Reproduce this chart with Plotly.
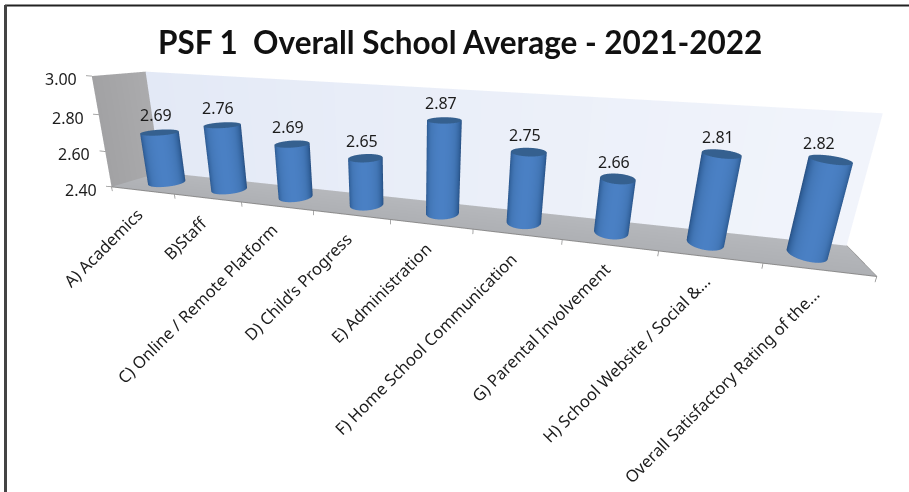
import numpy as np
import plotly.graph_objects as go

categories = ["A) Academics", "B)Staff", "C) Online / Remote Platform", "D) Child’s Progress",
              "E) Administration", "F) Home School Communication", "G) Parental Involvement",
              "H) School Website / Social &...", "Overall Satisfactory Rating of the..."]
values = [2.69, 2.76, 2.69, 2.65, 2.87, 2.75, 2.66, 2.81, 2.82]
value_ticks = [2.40, 2.60, 2.80, 3.00]
bar_half_widths = [0.22, 0.21, 0.20, 0.20, 0.195, 0.20, 0.19, 0.19, 0.185]
title = "PSF 1  Overall School Average - 2021-2022"

WIDTH, HEIGHT = 909, 492
Z_FLOOR, Z_TOP = 2.40, 3.00
# box proportions and camera for the tilted 3-D view
BOX = dict(x=2.3178, y=0.2332, z=0.3685)
EYE = dict(x=0.5153, y=-1.7069, z=0.3680)
CENTER = dict(x=0.0890, y=-0.1697, z=-0.2230)
UP = dict(x=-0.0142, y=-0.0483, z=1)
PAD_X, PAD_Y, PAD_Z = 0.2, 0.05, 0.03

FLAT = dict(ambient=1, diffuse=0, specular=0, fresnel=0, roughness=1)
fig = go.Figure()


def wall(xs, ys, zs, shades, scale):
    fig.add_trace(go.Mesh3d(x=xs, y=ys, z=zs, i=[0, 0], j=[1, 2], k=[2, 3], intensity=shades,
                            cmin=0, cmax=1, colorscale=scale, showscale=False,
                            lighting=FLAT, flatshading=False, hoverinfo="skip"))


wall([0, 9, 9, 0], [1, 1, 1, 1], [Z_FLOOR, Z_FLOOR, Z_TOP, Z_TOP], [0, 1, 1, 0],
     [[0, "#E3E9F6"], [1, "#F1F4FB"]])
wall([0, 0, 0, 0], [0, 1, 1, 0], [Z_FLOOR, Z_FLOOR, Z_TOP, Z_TOP], [0, 1, 1, 0],
     [[0, "#A2A2A4"], [1, "#ABABAD"]])
wall([0, 9, 9, 0], [0, 0, 1, 1], [Z_FLOOR] * 4, [0, 0, 1, 1],
     [[0, "#AEB0B4"], [1, "#B6B8BC"]])


def stroke(xs, ys, zs, color="#8C8C8C", width=2):
    fig.add_trace(go.Scatter3d(x=xs, y=ys, z=zs, mode="lines", line=dict(color=color, width=width),
                               hoverinfo="skip", showlegend=False))


# floor edges and tick stubs
stroke([0, 9, 9], [0, 0, 1], [Z_FLOOR] * 3)
for i in range(10):
    stroke([i, i], [0, 0], [Z_FLOOR, Z_FLOOR - 0.025], width=1.5)
for t in value_ticks:
    stroke([0, -0.09], [0, 0], [t, t], width=1.5)

theta = np.linspace(0, 2 * np.pi, 73)
SIDE = [[0, "#24497A"], [0.35, "#2F5E97"], [0.75, "#4377B7"], [1, "#4A80C4"]]
for i, v in enumerate(values):
    cx, cy, rx = i + 0.5, 0.5, bar_half_widths[i]
    ry = 0.28
    px = (cx / 9 - 0.5) * BOX["x"]
    py = (cy - 0.5) * BOX["y"]
    to_eye = np.array([EYE["x"] - px, EYE["y"] - py])
    to_eye /= np.linalg.norm(to_eye)
    shade = np.clip(np.cos(theta) * to_eye[0] + np.sin(theta) * to_eye[1], 0, 1)
    xx = cx + rx * np.cos(theta)
    yy = cy + ry * np.sin(theta)
    fig.add_trace(go.Surface(x=np.array([xx, xx]), y=np.array([yy, yy]),
                             z=np.array([[Z_FLOOR] * 73, [v] * 73]),
                             surfacecolor=np.array([shade, shade]), cmin=0, cmax=1, colorscale=SIDE,
                             showscale=False, lighting=FLAT, hoverinfo="skip"))
    fig.add_trace(go.Surface(x=np.array([cx + 0 * xx, xx]), y=np.array([cy + 0 * yy, yy]),
                             z=np.full((2, 73), v), surfacecolor=np.zeros((2, 73)), cmin=0, cmax=1,
                             colorscale=[[0, "#35608F"], [1, "#35608F"]], showscale=False,
                             lighting=FLAT, hoverinfo="skip"))

INK = "#1C1C1C"
notes = []
for i, v in enumerate(values):
    notes.append(dict(x=i + 0.5, y=0.5, z=v, text=f"{v:.2f}", showarrow=False, yshift=17,
                      xshift=-11 if i == 8 else -4,
                      font=dict(family="Noto Sans", size=16, color=INK)))
for i, c in enumerate(categories):
    notes.append(dict(x=i + 0.5, y=0, z=Z_FLOOR, text=c, showarrow=False, textangle=-45,
                      xanchor="right", yanchor="top", yshift=-10, xshift=8,
                      font=dict(family="Noto Sans", size=16.5, color=INK)))
for t in value_ticks:
    notes.append(dict(x=0, y=0, z=t, text=f"{t:.2f}", showarrow=False, xanchor="right", xshift=-13,
                      yshift=-3, font=dict(family="Noto Sans", size=16, color=INK)))


def grown(span, pad):
    return (span + 2 * pad) / span


fig.update_layout(
    width=WIDTH, height=HEIGHT, margin=dict(l=0, r=0, t=0, b=0), paper_bgcolor="white",
    showlegend=False,
    annotations=[dict(text=f"<b>{title}</b>", x=460 / WIDTH, y=1 - 42 / HEIGHT, xref="paper", yref="paper",
                      yanchor="middle", xanchor="center", showarrow=False,
                      font=dict(family="Lato", size=31.5, color="#111111"))],
    shapes=[dict(type="line", xref="paper", yref="paper", x0=5 / WIDTH, x1=1,
                 y0=1 - 5.5 / HEIGHT, y1=1 - 5.5 / HEIGHT, line=dict(color="#222222", width=2)),
            dict(type="line", xref="paper", yref="paper", x0=5.5 / WIDTH, x1=5.5 / WIDTH,
                 y0=0, y1=1 - 5 / HEIGHT, line=dict(color="#444444", width=3))],
    scene=dict(
        domain=dict(x=[0, 1], y=[0, 1]), aspectmode="manual",
        aspectratio=dict(x=BOX["x"] * grown(9, PAD_X), y=BOX["y"] * grown(1, PAD_Y),
                         z=BOX["z"] * grown(0.6, PAD_Z)),
        camera=dict(eye=EYE, center=CENTER, up=UP, projection=dict(type="perspective")),
        xaxis=dict(visible=False, range=[-PAD_X, 9 + PAD_X]),
        yaxis=dict(visible=False, range=[-PAD_Y, 1 + PAD_Y]),
        zaxis=dict(visible=False, range=[Z_FLOOR - PAD_Z, Z_TOP + PAD_Z]),
        annotations=notes),
)
fig.write_html("out.html")
